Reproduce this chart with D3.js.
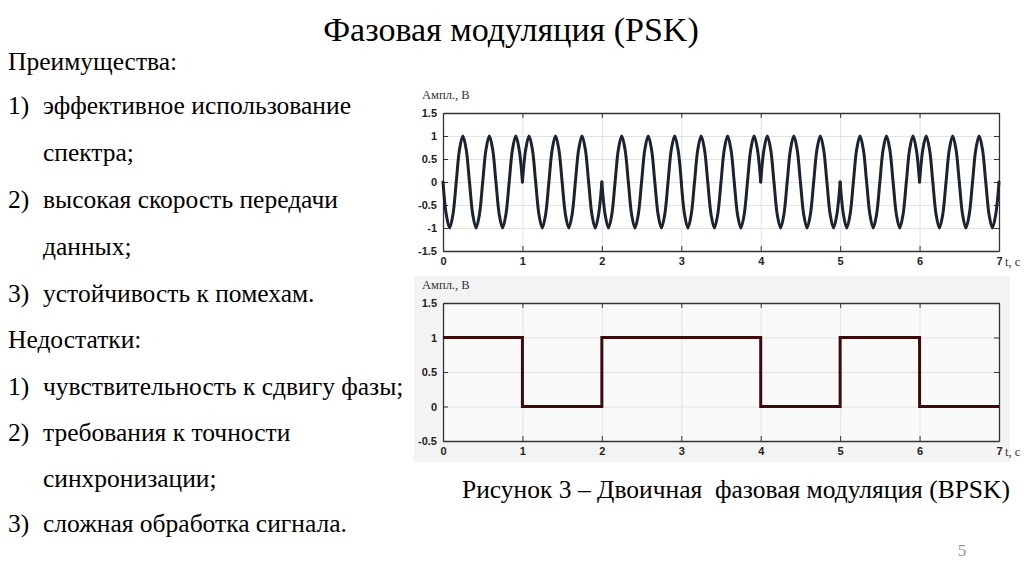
<!DOCTYPE html>
<html>
<head>
<meta charset="utf-8">
<script src="https://cdn.jsdelivr.net/npm/d3@7"></script>
<style>
  body { margin: 0; background: #fff; }
  svg { display: block; }
</style>
</head>
<body>
<svg id="slide" width="1024" height="574"></svg>
<script>
// slide text
var title = "Фазовая модуляция (PSK)";
var bullets = [
  {num: "", text: "Преимущества:"},
  {num: "1)", text: "эффективное использование"},
  {num: "", text: "спектра;", indent: true},
  {num: "2)", text: "высокая скорость передачи"},
  {num: "", text: "данных;", indent: true},
  {num: "3)", text: "устойчивость к помехам."},
  {num: "", text: "Недостатки:"},
  {num: "1)", text: "чувствительность к сдвигу фазы;"},
  {num: "2)", text: "требования к точности"},
  {num: "", text: "синхронизации;", indent: true},
  {num: "3)", text: "сложная обработка сигнала."}
];
var bulletBaselines = [70, 114, 161, 208, 255, 302, 348, 395, 441, 487, 532];
var caption = "Рисунок 3 – Двоичная  фазовая модуляция (BPSK)";

// chart data
var bits = [1, 0, 1, 1, 0, 1, 0];            // bottom chart, one per second
var xTicks = [0, 1, 2, 3, 4, 5, 6, 7];
var topYTicks = [-1.5, -1, -0.5, 0, 0.5, 1, 1.5];
var botYTicks = [-0.5, 0, 0.5, 1, 1.5];
// one second of carrier read off the top chart (3 periods), sampled every 1/24 s,
// as drawn while the bit is 1; the phase flips (sign) when the bit is 0
var symbolStep = 1 / 24;
var symbolWave = [0, -0.71, -1, -0.71, 0, 0.71, 1, 0.71,
                  0, -0.71, -1, -0.71, 0, 0.71, 1, 0.71,
                  0, -0.71, -1, -0.71, 0, 0.71, 1, 0.71, 0];

var svg = d3.select('#slide');
var serif = "'Liberation Serif', 'Times New Roman', serif";
var sans = "'Liberation Sans', Arial, sans-serif";

svg.append('text')
  .attr('x', 511).attr('y', 41)
  .attr('text-anchor', 'middle')
  .style('font-family', serif).style('font-size', '34px')
  .text(title);

var lines = svg.append('g').selectAll('g')
  .data(bullets).enter().append('g')
  .attr('transform', function(d, i) { return "translate(0," + bulletBaselines[i] + ")"; });
lines.append('text')
  .attr('x', 8)
  .style('font-family', serif).style('font-size', '25.5px')
  .text(function(d) { return d.num; });
lines.append('text')
  .attr('x', function(d) { return (d.num || d.indent) ? 43 : 8; })
  .style('font-family', serif).style('font-size', '25.5px')
  .text(function(d) { return d.text; });

svg.append('text')
  .attr('x', 736).attr('y', 498)
  .attr('text-anchor', 'middle')
  .style('font-family', serif).style('font-size', '25.5px')
  .style('white-space', 'pre')
  .text(caption);

svg.append('text')
  .attr('x', 962).attr('y', 556)
  .attr('text-anchor', 'middle')
  .style('font-family', serif).style('font-size', '17px')
  .style('fill', '#999')
  .text("5");

// light grey backdrop behind the lower figure
svg.append('rect')
  .attr('x', 414).attr('y', 276).attr('width', 596).attr('height', 186)
  .attr('fill', '#f3f3f3');

var x = d3.scaleLinear().domain([0, 7]).range([443, 999]);

function drawFrame(top, bottom, yDomain, yTicks, fill) {
  var y = d3.scaleLinear().domain(yDomain).range([bottom, top]);
  var g = svg.append('g');
  g.append('rect')
    .attr('x', x(0)).attr('y', top)
    .attr('width', x(7) - x(0)).attr('height', bottom - top)
    .attr('fill', fill);

  // grid
  g.append('g').attr('transform', "translate(0," + bottom + ")")
    .call(d3.axisBottom(x).tickValues(xTicks).tickSize(-(bottom - top)).tickFormat(''))
    .call(function(s) { s.select('.domain').remove(); s.selectAll('line').attr('stroke', '#e2e2e2'); });
  g.append('g').attr('transform', "translate(" + x(0) + ",0)")
    .call(d3.axisLeft(y).tickValues(yTicks).tickSize(-(x(7) - x(0))).tickFormat(''))
    .call(function(s) { s.select('.domain').remove(); s.selectAll('line').attr('stroke', '#e2e2e2'); });

  var fmt = function(d) { return String(d); };
  var styleAxis = function(s) {
    s.selectAll('text').style('font-family', sans).style('font-size', '11px')
      .style('font-weight', 'bold').attr('fill', '#222');
    s.selectAll('line').attr('stroke', '#333');
    s.select('.domain').attr('stroke', '#333').attr('stroke-width', 1.3);
  };
  g.append('g').attr('transform', "translate(0," + bottom + ")")
    .call(d3.axisBottom(x).tickValues(xTicks).tickSize(-5).tickSizeOuter(0).tickPadding(6).tickFormat(fmt))
    .call(styleAxis);
  g.append('g').attr('transform', "translate(0," + top + ")")
    .call(d3.axisTop(x).tickValues(xTicks).tickSize(-5).tickSizeOuter(0).tickFormat(''))
    .call(styleAxis);
  g.append('g').attr('transform', "translate(" + x(0) + ",0)")
    .call(d3.axisLeft(y).tickValues(yTicks).tickSize(-5).tickSizeOuter(0).tickPadding(6).tickFormat(fmt))
    .call(styleAxis);
  g.append('g').attr('transform', "translate(" + x(7) + ",0)")
    .call(d3.axisRight(y).tickValues(yTicks).tickSize(-5).tickSizeOuter(0).tickFormat(''))
    .call(styleAxis);

  g.append('text')
    .attr('x', 422).attr('y', top - 14)
    .style('font-family', serif).style('font-size', '12.5px').attr('fill', '#333')
    .text("Ампл., В");
  g.append('text')
    .attr('x', 1005).attr('y', bottom + 15)
    .style('font-family', serif).style('font-size', '12.5px').attr('fill', '#333')
    .text("t, c");
  return {g: g, y: y};
}

// top: BPSK signal
var topChart = drawFrame(113, 251, [-1.5, 1.5], topYTicks, '#fff');
var waveLine = d3.line()
  .x(function(d) { return x(d[0]); })
  .y(function(d) { return topChart.y(d[1]); })
  .curve(d3.curveCatmullRom);
topChart.g.append('g').selectAll('path')
  .data(bits).enter().append('path')
  .attr('d', function(b, k) {
    return waveLine(symbolWave.map(function(v, i) {
      return [k + i * symbolStep, b ? v : -v];
    }));
  })
  .attr('fill', 'none')
  .attr('stroke', '#1b2230')
  .attr('stroke-width', 3)
  .attr('stroke-linejoin', 'round')
  .attr('stroke-linecap', 'round');

// bottom: bit stream
var botChart = drawFrame(303, 441, [-0.5, 1.5], botYTicks, '#fafafa');
var bitPoints = bits.map(function(b, k) { return [k, b]; });
bitPoints.push([bits.length, bits[bits.length - 1]]);
botChart.g.append('path')
  .datum(bitPoints)
  .attr('d', d3.line()
    .x(function(d) { return x(d[0]); })
    .y(function(d) { return botChart.y(d[1]); })
    .curve(d3.curveStepAfter))
  .attr('fill', 'none')
  .attr('stroke', '#3e0b0b')
  .attr('stroke-width', 3);
</script>
</body>
</html>
